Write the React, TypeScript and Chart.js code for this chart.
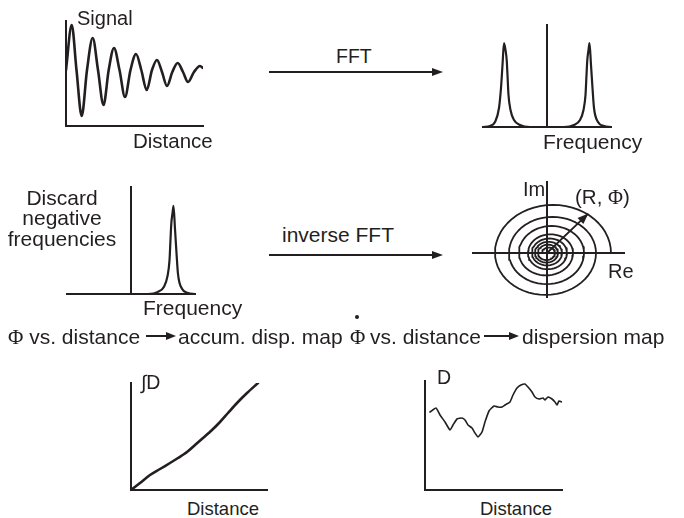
import React, { useEffect, useRef } from 'react';
import { Chart, registerables } from 'chart.js';

Chart.register(...registerables);

const INK = '#231f20';
const SANS = '"Liberation Sans", Arial, Helvetica, sans-serif';
const SERIF = '"Liberation Serif", "Times New Roman", serif';

// ---------- data ----------
// Panel 1: damped signal vs distance
const signalDistance = [0, 5.7, 10.5, 15.7, 21, 26.7, 32, 37.5, 42.7, 48, 53.5, 59, 64.5, 70, 75.3, 80.7, 86, 91, 96, 101, 106.3, 111.7, 117, 122, 128, 134, 137];
const signalAmp = [56, 101, 56, 10, 56, 88, 56, 21, 56, 78, 56, 29, 56, 72, 56, 36, 56, 66, 54, 40, 54, 63, 54, 44, 54, 60, 58];

// Panel 2 / 3: spectrum (frequency, amplitude)
const specFreq = [-64, -57, -52, -48, -46, -44.5, -43, -41.5, -40.3, -39.5, -38.5, -36.5, -33, -27, -17, 0, 17, 27, 33, 36.5, 38.5, 39.5, 40.3, 41.5, 42.5, 44, 45.5, 47, 51, 57, 64];
const specAmp = [0, 1, 5, 19, 39, 62, 84, 77, 67, 52, 32, 17, 7, 2, 0, 0, 0, 2, 7, 17, 32, 52, 67, 77, 84, 62, 39, 19, 5, 1, 0];

// Panel 4: spiral in the complex plane (successive axis crossings, inside -> outside)
const spiralCrossings = [-5, 8, -9, 11, -12, 15, -15, 20, -19, 26, -28, 37, -38, 49, -52, 64];
const arrowR = 62;
const arrowPhiDeg = 49;

// Panel 5: accumulated dispersion
const accDistance = [0, 9, 19, 29, 39, 47, 56, 64, 72, 81, 89, 97, 106, 116, 127];
const accValue = [0, 7, 15, 21, 27, 32, 38, 45, 52, 60, 68, 77, 87, 97, 107];

// Panel 6: dispersion map
const dispDistance = [5, 11, 15, 20, 25, 28, 32, 37, 40, 43, 47, 50, 53, 57, 60, 64, 69, 73, 77, 80, 85, 88, 92, 96, 100, 103, 107, 110, 114, 118, 120, 123, 127, 130, 132, 134, 137];
const dispValue = [78, 82, 75, 68, 60, 65, 71, 72, 70, 65, 62, 57, 53, 58, 68, 79, 84, 83, 83, 85, 88, 95, 102, 105, 106, 103, 98, 93, 91, 92, 90, 93, 91, 88, 85, 89, 88];

// ---------- helpers ----------
const zip = (xs: number[], ys: number[]) => xs.map((x, i) => ({ x, y: ys[i] }));

function spiralPoints(cr: number[]) {
  const pts: { x: number; y: number }[] = [];
  const N = 28;
  for (let k = 0; k < cr.length - 1; k++) {
    const a = cr[k];
    const b = cr[k + 1];
    const c = (a + b) / 2;
    const r = Math.abs(b - a) / 2;
    const upper = k % 2 === 0;
    for (let j = 0; j <= N; j++) {
      if (k > 0 && j === 0) continue;
      const t = j / N;
      const th = upper ? Math.PI * (1 - t) : -Math.PI * t;
      pts.push({ x: c + r * Math.cos(th), y: r * Math.sin(th) });
    }
  }
  return pts;
}

const arrowHeadPlugin = {
  id: 'arrowHeadPlugin',
  afterDatasetsDraw(chart: any) {
    const ctx = chart.ctx;
    chart.data.datasets.forEach((ds: any, i: number) => {
      if (!ds.arrowHead) return;
      const pts = chart.getDatasetMeta(i).data;
      const p1 = pts[pts.length - 2];
      const p2 = pts[pts.length - 1];
      const ang = Math.atan2(p2.y - p1.y, p2.x - p1.x);
      ctx.save();
      ctx.translate(p2.x, p2.y);
      ctx.rotate(ang);
      ctx.beginPath();
      ctx.moveTo(1, 0);
      ctx.lineTo(-10, -4.2);
      ctx.lineTo(-10, 4.2);
      ctx.closePath();
      ctx.fillStyle = INK;
      ctx.fill();
      ctx.restore();
    });
  },
};

function scale(min: number, max: number, extra: any = {}) {
  return {
    type: 'linear',
    min,
    max,
    grid: { display: false, drawTicks: false },
    ticks: { display: false },
    border: { display: true, color: INK, width: 2 },
    ...extra,
  };
}

function lineDs(data: any[], width = 2.4, extra: any = {}) {
  return {
    data,
    borderColor: INK,
    borderWidth: width,
    pointRadius: 0,
    fill: false,
    borderCapStyle: 'round',
    borderJoinStyle: 'round',
    ...extra,
  };
}

const PAD = 6;

function MiniChart(props: { left: number; top: number; width: number; height: number; datasets: any[]; scales: any }) {
  const ref = useRef<HTMLCanvasElement | null>(null);
  const { left, top, width, height, datasets, scales } = props;
  useEffect(() => {
    const chart = new Chart(ref.current as HTMLCanvasElement, {
      type: 'line',
      data: { datasets },
      options: {
        animation: false,
        responsive: false,
        devicePixelRatio: 1,
        events: [],
        layout: { padding: PAD },
        plugins: { legend: { display: false }, tooltip: { enabled: false } },
        scales,
      } as any,
      plugins: [arrowHeadPlugin],
    } as any);
    return () => chart.destroy();
  }, []);
  const w = width + 2 * PAD;
  const h = height + 2 * PAD;
  return (
    <canvas
      ref={ref}
      width={w}
      height={h}
      style={{ position: 'absolute', left: left - PAD, top: top - PAD, width: w, height: h }}
    />
  );
}

function Label(props: { x: number; baseline: number; size?: number; children: any; width?: number; center?: boolean }) {
  const size = props.size ?? 21;
  const style: any = {
    position: 'absolute',
    left: props.center ? props.x - (props.width ?? 200) / 2 : props.x,
    top: props.baseline - 0.8465 * size,
    fontFamily: SANS,
    fontSize: size,
    lineHeight: 1,
    color: INK,
    whiteSpace: 'nowrap',
  };
  if (props.center) {
    style.width = props.width ?? 200;
    style.textAlign = 'center';
  }
  return <div style={style}>{props.children}</div>;
}

function Arrow(props: { x1: number; x2: number; y: number; head?: number; half?: number }) {
  const head = props.head ?? 11;
  const half = props.half ?? 4.5;
  return (
    <>
      <div
        style={{
          position: 'absolute',
          left: props.x1,
          top: props.y - 0.75,
          width: props.x2 - props.x1 - head + 1,
          height: 1.5,
          background: INK,
        }}
      />
      <div
        style={{
          position: 'absolute',
          left: props.x2 - head,
          top: props.y - half,
          width: 0,
          height: 0,
          borderTop: `${half}px solid transparent`,
          borderBottom: `${half}px solid transparent`,
          borderLeft: `${head}px solid ${INK}`,
        }}
      />
    </>
  );
}

const Phi = () => <span style={{ fontFamily: SERIF }}>Φ</span>;

export default function App() {
  const spectrum = zip(specFreq, specAmp);
  const positive = spectrum.filter((p) => p.x >= 0);
  const arrowPts = [
    { x: 0, y: 0 },
    {
      x: arrowR * Math.cos((arrowPhiDeg * Math.PI) / 180),
      y: arrowR * Math.sin((arrowPhiDeg * Math.PI) / 180),
    },
  ];

  return (
    <div style={{ position: 'absolute', left: 0, top: 0, width: 684, height: 518, background: '#fff', overflow: 'hidden' }}>
      {/* Panel 1: signal */}
      <MiniChart
        left={66}
        top={21}
        width={137}
        height={105}
        datasets={[lineDs(zip(signalDistance, signalAmp), 2.6, { cubicInterpolationMode: 'monotone' })]}
        scales={{ x: scale(0, 137, { position: 'bottom' }), y: scale(0, 105, { position: 'left' }) }}
      />
      <Label x={77} baseline={25} size={20}>Signal</Label>
      <Label x={133} baseline={148.5} size={20.5}>Distance</Label>

      {/* FFT arrow */}
      <Label x={336} baseline={64} size={19.5}>FFT</Label>
      <Arrow x1={269} x2={443} y={72} />

      {/* Panel 2: two-sided spectrum */}
      <MiniChart
        left={483}
        top={25}
        width={128}
        height={102}
        datasets={[lineDs(spectrum, 2.2, { cubicInterpolationMode: 'monotone' })]}
        scales={{ x: scale(-64, 64, { position: 'bottom' }), y: scale(0, 102, { position: { x: 0 } }) }}
      />
      <Label x={543} baseline={148.5}>Frequency</Label>

      {/* Panel 3: positive frequencies only */}
      <MiniChart
        left={67}
        top={187}
        width={128}
        height={107}
        datasets={[lineDs(positive, 2.2, { cubicInterpolationMode: 'monotone' })]}
        scales={{ x: scale(-64, 64, { position: 'bottom' }), y: scale(0, 102, { position: { x: 0 } }) }}
      />
      <Label x={62} baseline={204.5} center width={140}>Discard</Label>
      <Label x={62} baseline={225} center width={140}>negative</Label>
      <Label x={62} baseline={245.5} center width={140}>frequencies</Label>
      <Label x={143} baseline={314.5}>Frequency</Label>

      {/* inverse FFT arrow */}
      <Label x={282} baseline={241.5}>inverse FFT</Label>
      <Arrow x1={269} x2={443} y={255} />

      {/* Panel 4: complex plane spiral */}
      <MiniChart
        left={473}
        top={182}
        width={151}
        height={115}
        datasets={[
          lineDs(spiralPoints(spiralCrossings), 1.8, { tension: 0 }),
          lineDs(arrowPts, 1.8, { tension: 0, arrowHead: true }),
        ]}
        scales={{ x: scale(-74, 77, { position: { y: 0 } }), y: scale(-53, 85.5, { position: { x: 0 } }) }}
      />
      <Label x={523} baseline={196} size={20}>Im</Label>
      <Label x={575} baseline={204} size={20.5}>(R, <Phi />)</Label>
      <Label x={608} baseline={278} size={20}>Re</Label>

      {/* middle text row */}
      <Label x={8} baseline={343.5}><Phi /> vs. distance</Label>
      <Arrow x1={146} x2={176} y={336} head={10} half={4} />
      <Label x={178} baseline={343.5}>accum. disp. map</Label>
      <Label x={350} baseline={343.5}><Phi /></Label>
      <div style={{ position: 'absolute', left: 355, top: 315, width: 4, height: 4, borderRadius: 2, background: INK }} />
      <Label x={370} baseline={343.5}>vs. distance</Label>
      <Arrow x1={484} x2={519} y={336} head={10} half={4} />
      <Label x={522} baseline={343.5}>dispersion map</Label>

      {/* Panel 5: accumulated dispersion */}
      <MiniChart
        left={131}
        top={383}
        width={136}
        height={107}
        datasets={[lineDs(zip(accDistance, accValue), 2.6, { tension: 0.3 })]}
        scales={{ x: scale(0, 136, { position: 'bottom' }), y: scale(0, 107, { position: 'left' }) }}
      />
      <Label x={141} baseline={390} size={19.5}>∫D</Label>
      <Label x={187} baseline={516} size={18.5}>Distance</Label>

      {/* Panel 6: dispersion map */}
      <MiniChart
        left={425}
        top={381}
        width={137}
        height={109}
        datasets={[lineDs(zip(dispDistance, dispValue), 1.6, { tension: 0.15 })]}
        scales={{ x: scale(0, 137, { position: 'bottom' }), y: scale(0, 109, { position: 'left' }) }}
      />
      <Label x={437} baseline={385} size={19.5}>D</Label>
      <Label x={480} baseline={516} size={18.5}>Distance</Label>
    </div>
  );
}
